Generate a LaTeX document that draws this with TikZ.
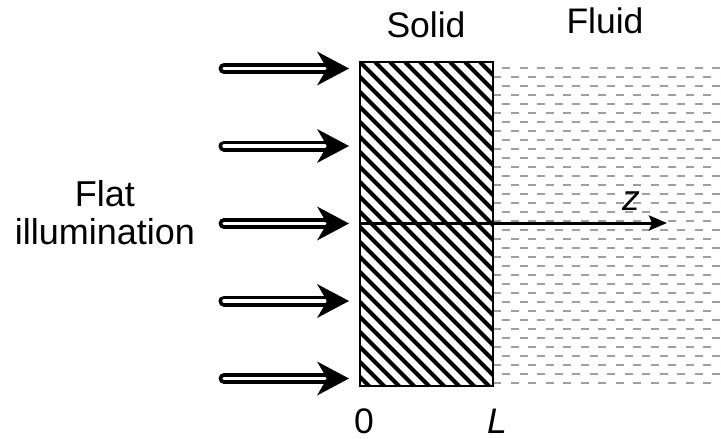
\documentclass[tikz,border=0pt]{standalone}
\usepackage{fontspec}
\setmainfont{Liberation Sans}
\usetikzlibrary{arrows.meta,calc}
\begin{document}
\begin{tikzpicture}[x=1pt,y=-1pt,
  lbl/.style={font=\fontsize{35.5}{39}\selectfont, inner sep=0pt},
  fluidrow/.style={draw=gray!75, line width=1.7pt, dash pattern=on 8pt off 9.5pt},
  hatchline/.style={line width=3.9pt},
  beamout/.style={line width=11pt, line cap=round},
  beamin/.style={white, line width=3.5pt, line cap=round},
  axisline/.style={line width=3pt, -{Stealth[length=18pt, width=15pt, inset=3pt]}}]
\useasboundingbox (0,0) rectangle (721,439);
% solid block
\node[minimum width=133pt, minimum height=324pt, inner sep=0pt, outer sep=0pt, anchor=north west] (solid) at (360,62) {};
% fluid dashed rows
\foreach \i in {0,...,35}{
  \pgfmathsetmacro{\yy}{68+9*\i}
  \pgfmathsetmacro{\ph}{mod(\i,2)==0 ? 8.5 : 0}
  \draw[fluidrow, dash phase=\ph pt] (493,\yy) -- (721,\yy);
}
% hatching
\begin{scope}
  \clip (solid.south west) rectangle (solid.north east);
  \foreach \k in {-23,...,9}{
    \draw[hatchline] (360+\k*15,62) -- ++(330,330);
  }
\end{scope}
\draw[line width=2.5pt] (solid.north west) rectangle (solid.south east);
% z axis
\coordinate (zstart) at (360,223);
\coordinate (zend) at (667,223);
\draw[axisline] (zstart) -- (zend);
% illumination beams
\foreach \i in {0,...,4}{
  \pgfmathsetmacro{\yy}{68.5+77.5*\i}
  \coordinate (t\i) at (224,\yy);
  \coordinate (h\i) at (349,\yy);
  \draw[beamout] (t\i) -- ($(h\i)+(-22,0)$);
  \draw[beamin] (t\i) -- ($(h\i)+(-24,0)$);
  \fill (h\i) -- ++(-32,-17) -- ++(10,17) -- ++(-10,17) -- cycle;
}
% labels
\node[lbl, anchor=base] (solidlbl) at (426,37) {Solid};
\node[lbl, anchor=base] (fluidlbl) at (605,33) {Fluid};
\node[lbl, align=center, font=\fontsize{36}{38.5}\selectfont] (illum) at (105,212.5) {Flat\\illumination};
\node[lbl, anchor=base] (zero) at (364,433) {0};
\node[lbl, anchor=base] (ell) at (497,433) {\itshape L};
\node[lbl, anchor=base] (zlbl) at (631,210) {\itshape z};
\end{tikzpicture}
\end{document}
